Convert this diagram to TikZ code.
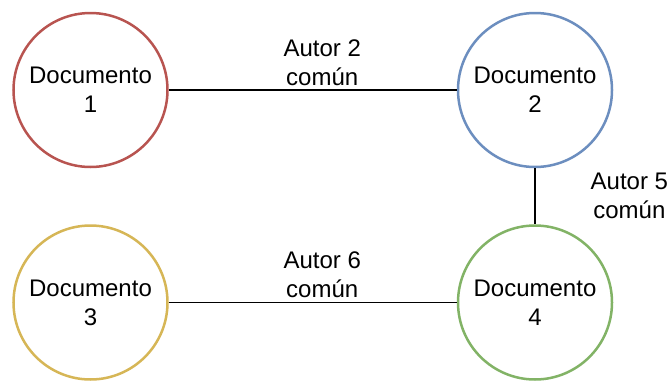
\documentclass[tikz,border=0pt]{standalone}
\usepackage{fontspec}
\setmainfont{Liberation Sans}
\usetikzlibrary{positioning}
\definecolor{cRed}{HTML}{B85450}
\definecolor{cBlue}{HTML}{6C8EBF}
\definecolor{cYel}{HTML}{D6B656}
\definecolor{cGreen}{HTML}{82B366}
\tikzset{
  doc/.style={circle,draw,fill=white,line width=2.5pt,inner sep=0pt,minimum size=154pt,align=center,font=\fontsize{24}{29}\selectfont},
  lbl/.style={align=center,inner sep=1pt,font=\fontsize{24}{29}\selectfont},
  edg/.style={line width=1.3pt,black},
}

\begin{document}
\begin{tikzpicture}[x=1pt,y=-1pt]
  \useasboundingbox (0,0) rectangle (672,383);
  % documents
  \node[doc,draw=cRed] (d1) at (90.5,90) {Documento\\1};
  \node[doc,draw=cBlue] (d2) at (535,90) {Documento\\2};
  \node[doc,draw=cYel] (d3) at (90.5,302.5) {Documento\\3};
  \node[doc,draw=cGreen] (d4) at (535,302.5) {Documento\\4};
  % shared authors
  \draw[edg] (d1) -- node[lbl,above=3pt,xshift=9.5pt] {Autor 2\\común} (d2);
  \draw[edg] (d3) -- node[lbl,above=3pt,xshift=9.5pt] {Autor 6\\común} (d4);
  \draw[edg] (d2) -- node[lbl,right=54pt] {Autor 5\\común} (d4);
\end{tikzpicture}
\end{document}
